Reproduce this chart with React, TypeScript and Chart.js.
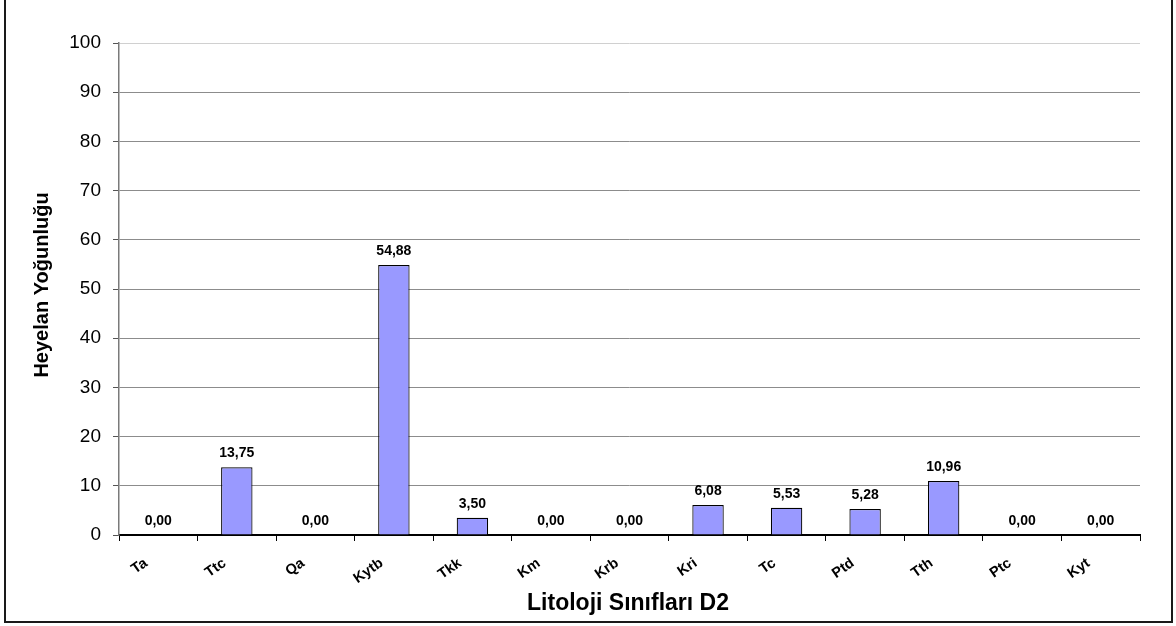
import React, { useEffect, useRef } from "react";
import { Chart, registerables } from "chart.js";

Chart.register(...registerables);

const categories = ["Ta", "Ttc", "Qa", "Kytb", "Tkk", "Km", "Krb", "Kri", "Tc", "Ptd", "Tth", "Ptc", "Kyt"];
const density = [0.0, 13.75, 0.0, 54.88, 3.5, 0.0, 0.0, 6.08, 5.53, 5.28, 10.96, 0.0, 0.0];
const yTicks = [0, 10, 20, 30, 40, 50, 60, 70, 80, 90, 100];
const xTitle = "Litoloji Sınıfları D2";
const yTitle = "Heyelan Yoğunluğu";

const FONT = "Arial, 'Liberation Sans', sans-serif";

const fmt = (v: number) => v.toFixed(2).replace(".", ",");

// Value labels above each bar, slanted category labels, frame lines and axis titles.
const decorations = {
  id: "decorations",
  afterDatasetsDraw(chart: any) {
    const ctx = chart.ctx;
    const meta = chart.getDatasetMeta(0);
    ctx.save();
    ctx.fillStyle = "#000";
    ctx.font = `bold 14px ${FONT}`;
    ctx.textAlign = "center";
    ctx.textBaseline = "alphabetic";
    meta.data.forEach((bar: any, i: number) => {
      ctx.fillText(fmt(density[i]), bar.x, bar.y - 10);
    });
    ctx.restore();
  },
  afterDraw(chart: any) {
    const ctx = chart.ctx;
    const xScale = chart.scales.x;
    ctx.save();
    // outer frame (left, bottom, right)
    ctx.strokeStyle = "#1a1a1a";
    ctx.lineWidth = 2;
    ctx.beginPath();
    ctx.moveTo(5, 0);
    ctx.lineTo(5, 622);
    ctx.lineTo(1172, 622);
    ctx.lineTo(1172, 0);
    ctx.stroke();

    // category labels, slanted
    ctx.fillStyle = "#000";
    ctx.font = `bold 14.5px ${FONT}`;
    ctx.textAlign = "right";
    ctx.textBaseline = "alphabetic";
    categories.forEach((c, i) => {
      const x = xScale.getPixelForValue(i);
      ctx.save();
      ctx.translate(x - 10, 565);
      ctx.rotate((-35 * Math.PI) / 180);
      ctx.fillText(c, 0, 0);
      ctx.restore();
    });

    ctx.font = `bold 23px ${FONT}`;
    ctx.textAlign = "center";
    ctx.fillText(xTitle, 628, 610);

    ctx.translate(48, 285);
    ctx.rotate(-Math.PI / 2);
    ctx.font = `bold 20px ${FONT}`;
    ctx.fillText(yTitle, 0, 0);
    ctx.restore();
  },
};

export default function App() {
  const ref = useRef<HTMLCanvasElement>(null);

  useEffect(() => {
    document.body.style.margin = "0";
    const chart = new Chart(ref.current as HTMLCanvasElement, {
      type: "bar",
      data: {
        labels: categories,
        datasets: [
          {
            data: density,
            backgroundColor: "#9999FF",
            borderColor: "#000",
            borderWidth: 1.2,
            barPercentage: 0.4,
            categoryPercentage: 1,
          },
        ],
      },
      options: {
        animation: false,
        responsive: false,
        layout: { padding: { left: 0, top: 43, right: 36, bottom: 0 } },
        plugins: {
          legend: { display: false },
          tooltip: { enabled: false },
        },
        scales: {
          x: {
            afterFit: (s: any) => {
              s.height = 91;
            },
            grid: {
              display: true,
              drawOnChartArea: false,
              drawTicks: true,
              tickLength: 6,
              color: "#000",
              offset: true,
            },
            border: { color: "#000", width: 2 },
            ticks: { display: false },
          },
          y: {
            min: 0,
            max: 100,
            afterFit: (s: any) => {
              s.width = 119;
            },
            afterBuildTicks: (s: any) => {
              s.ticks = yTicks.map((v) => ({ value: v }));
            },
            grid: {
              color: (c: any) => (c.tick && c.tick.value === 100 ? "#d0d0d0" : "#8c8c8c"),
              tickColor: "#555",
              tickLength: 6,
              lineWidth: 1,
            },
            border: { color: "#7a7a7a", width: 1.5 },
            ticks: {
              color: "#000",
              font: { family: FONT, size: 19 },
              padding: 12,
            },
          },
        },
      },
      plugins: [decorations],
    });
    return () => chart.destroy();
  }, []);

  return (
    <div style={{ width: 1176, height: 626, background: "#fff" }}>
      <canvas ref={ref} width={1176} height={626} style={{ display: "block" }} />
    </div>
  );
}
